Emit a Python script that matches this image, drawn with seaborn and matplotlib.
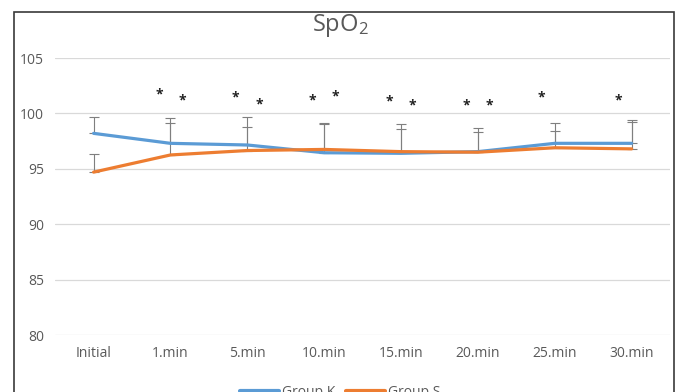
import numpy as np
import pandas as pd
import matplotlib.pyplot as plt
import seaborn as sns
from matplotlib.patches import Rectangle
from matplotlib.lines import Line2D

times = ['Initial', '1.min', '5.min', '10.min', '15.min', '20.min', '25.min', '30.min']
group_k = [98.2, 97.3, 97.15, 96.45, 96.4, 96.55, 97.3, 97.3]
group_s = [94.7, 96.25, 96.65, 96.75, 96.55, 96.5, 96.9, 96.8]
sd_k = [1.45, 1.8, 1.65, 2.6, 2.15, 1.75, 1.15, 1.9]
sd_s = [1.6, 3.35, 3.05, 2.4, 2.5, 2.2, 2.2, 2.6]

# asterisks: (time index, offset, height)
stars_idx = [1, 1, 2, 2, 3, 3, 4, 4, 5, 5, 6, 7]
stars_off = [-0.15, 0.15, -0.15, 0.15, -0.15, 0.15, -0.15, 0.15, -0.15, 0.15, -0.17, -0.17]
stars_y = [101.75, 101.2, 101.4, 100.8, 101.2, 101.55, 101.1, 100.7, 100.7, 100.7, 101.4, 101.2]

df = pd.DataFrame({
    'time': times * 2,
    'value': group_k + group_s,
    'group': ['Group K'] * len(times) + ['Group S'] * len(times),
})

sns.set_style('white')
plt.rcParams['font.family'] = ['Open Sans', 'DejaVu Sans']

blue = '#5B9BD5'
orange = '#ED7D31'
grey = '#595959'

fig = plt.figure(figsize=(6.81, 3.92), dpi=100)
ax = fig.add_axes([0.081, 0.1454, 0.903, 0.7066])

x = np.arange(len(times))
ax.errorbar(x, group_k, yerr=[np.zeros(len(x)), sd_k], fmt='none',
            ecolor='#7f7f7f', elinewidth=0.8, capsize=3.5, capthick=0.8, zorder=1)
ax.errorbar(x, group_s, yerr=[np.zeros(len(x)), sd_s], fmt='none',
            ecolor='#7f7f7f', elinewidth=0.8, capsize=3.5, capthick=0.8, zorder=1)

sns.lineplot(data=df, x='time', y='value', hue='group', sort=False,
             palette={'Group K': blue, 'Group S': orange}, linewidth=2.3,
             legend=False, ax=ax, zorder=3)

for i, o, yv in zip(stars_idx, stars_off, stars_y):
    ax.text(i + o, yv, '*', ha='center', va='center', fontsize=10,
            fontweight='bold', color='#222222')

ax.set_xlim(-0.5, len(times) - 0.5)
ax.set_ylim(80, 105)
ax.set_yticks([80, 85, 90, 95, 100, 105])
ax.yaxis.grid(True, color='#D9D9D9', linewidth=0.9)
ax.set_axisbelow(True)
for s in ax.spines.values():
    s.set_visible(False)
ax.tick_params(axis='both', length=0, labelsize=10, labelcolor=grey, pad=8)
ax.set_xlabel('')
ax.set_ylabel('')

fig.text(0.5, 0.935, r'$\mathregular{SpO_2}$', ha='center', va='center',
         fontsize=17, color=grey)

handles = [Line2D([], [], color=blue, lw=3), Line2D([], [], color=orange, lw=3)]
fig.legend(handles, ['Group K', 'Group S'], loc='center', bbox_to_anchor=(0.5, 0.0),
           ncol=2, frameon=False, fontsize=10, labelcolor=grey, handlelength=2.8,
           columnspacing=0.8, handletextpad=0.2)

fig.add_artist(Rectangle((14 / 681, -0.1), (674 - 14) / 681, (392 - 12) / 392 + 0.1,
                         transform=fig.transFigure, fill=False, ec='#3a3a3a', lw=1.2))

fig.savefig('out.png', dpi=100)
